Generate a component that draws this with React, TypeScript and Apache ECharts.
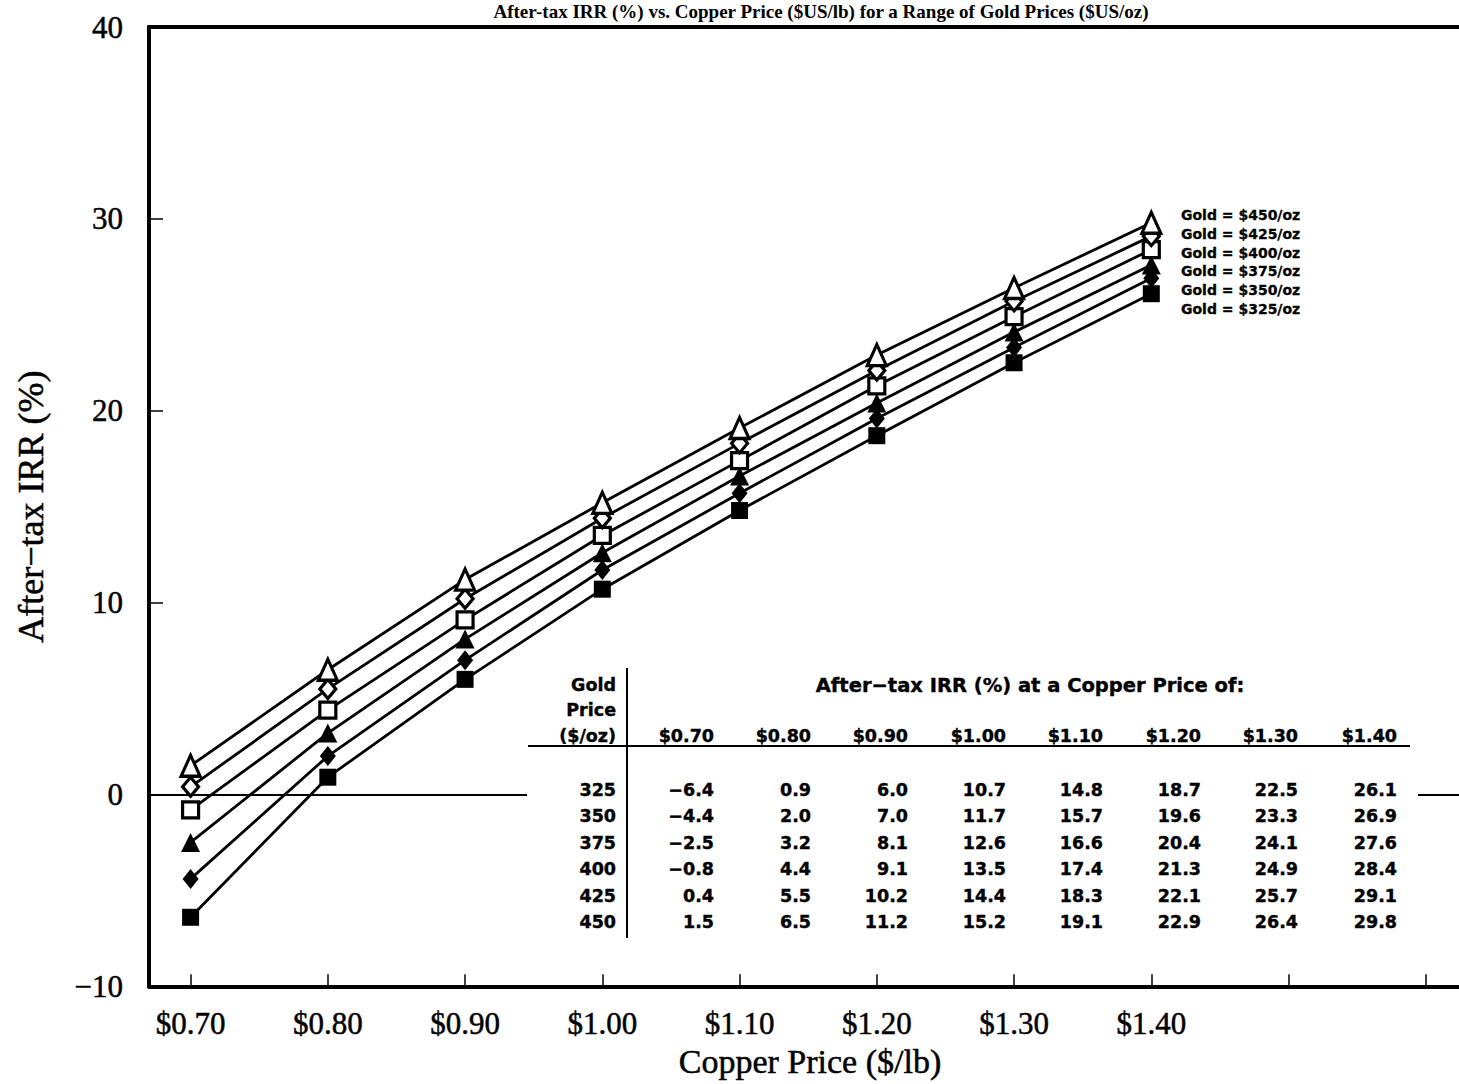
import React, { useEffect, useRef } from "react";
import * as echarts from "echarts";

const copperPrices = [0.7, 0.8, 0.9, 1.0, 1.1, 1.2, 1.3, 1.4];
const tickValues = [0.7, 0.8, 0.9, 1.0, 1.1, 1.2, 1.3, 1.4, 1.5, 1.6];
const goldPrices = [325, 350, 375, 400, 425, 450];
const irr325 = [-6.4, 0.9, 6.0, 10.7, 14.8, 18.7, 22.5, 26.1];
const irr350 = [-4.4, 2.0, 7.0, 11.7, 15.7, 19.6, 23.3, 26.9];
const irr375 = [-2.5, 3.2, 8.1, 12.6, 16.6, 20.4, 24.1, 27.6];
const irr400 = [-0.8, 4.4, 9.1, 13.5, 17.4, 21.3, 24.9, 28.4];
const irr425 = [0.4, 5.5, 10.2, 14.4, 18.3, 22.1, 25.7, 29.1];
const irr450 = [1.5, 6.5, 11.2, 15.2, 19.1, 22.9, 26.4, 29.8];
const irrByGold = [irr325, irr350, irr375, irr400, irr425, irr450];
const yTicks = [0, 10, 20, 30];

const SERIF = "'Liberation Serif', 'Times New Roman', serif";
const SANS = "'DejaVu Sans', sans-serif";

export default function App() {
  const ref = useRef<HTMLDivElement>(null);
  useEffect(() => {
    if (!ref.current) return;
    const chart = echarts.init(ref.current, null, { renderer: "svg" });

    const symbols = [
      { symbol: "rect", size: 17, fill: "#000" },
      { symbol: "diamond", size: [16, 20], fill: "#000" },
      { symbol: "triangle", size: [19, 19], fill: "#000" },
      { symbol: "rect", size: 16, fill: "#fff" },
      { symbol: "diamond", size: [16, 19], fill: "#fff" },
      { symbol: "triangle", size: [19, 21], fill: "#fff" },
    ];

    const series: any[] = goldPrices.map((g, i) => ({
      name: `Gold = $${g}/oz`,
      type: "line",
      data: copperPrices.map((c, j) => [c, irrByGold[i][j]]),
      symbol: symbols[i].symbol,
      symbolSize: symbols[i].size,
      showAllSymbol: true,
      lineStyle: { color: "#000", width: 2.8 },
      itemStyle: {
        color: symbols[i].fill,
        borderColor: "#000",
        borderWidth: symbols[i].fill === "#fff" ? 3.2 : 0,
      },
      z: 3 + i,
      ...(i === 0
        ? {
            markLine: {
              silent: true,
              symbol: "none",
              label: { show: false },
              lineStyle: { color: "#000", width: 2, type: "solid" },
              data: [{ yAxis: 0 }],
            },
          }
        : {}),
    }));

    // Table
    const colRight = [714, 811, 908, 1006, 1103, 1201, 1298, 1397];
    const rowY = [790, 816, 843, 869, 896, 922];
    const tableEls: any[] = [];
    const txt = (text: string, x: number, y: number, align = "right", size = 17.5) => ({
      type: "text",
      x,
      y,
      z: 101,
      style: {
        text,
        fill: "#000",
        font: `bold ${size}px ${SANS}`,
        align,
        verticalAlign: "middle",
        stroke: "#000",
        lineWidth: 0.4,
      },
    });
    tableEls.push({
      type: "rect",
      shape: { x: 527, y: 660, width: 891, height: 290 },
      style: { fill: "#fff" },
      z: 100,
    });
    tableEls.push(txt("Gold", 616, 685));
    tableEls.push(txt("Price", 616, 710));
    tableEls.push(txt("($/oz)", 616, 736));
    tableEls.push(txt("After\u2212tax IRR (%) at a Copper Price of:", 1030, 685, "center", 19.5));
    copperPrices.forEach((c, j) => {
      tableEls.push(txt(`$${c.toFixed(2)}`, colRight[j], 736));
    });
    goldPrices.forEach((g, i) => {
      tableEls.push(txt(String(g), 616, rowY[i]));
      irrByGold[i].forEach((v, j) => {
        const s = v < 0 ? `\u2212${Math.abs(v).toFixed(1)}` : v.toFixed(1);
        tableEls.push(txt(s, colRight[j], rowY[i]));
      });
    });
    tableEls.push({
      type: "line",
      z: 101,
      shape: { x1: 627, y1: 668, x2: 627, y2: 938 },
      style: { stroke: "#000", lineWidth: 2 },
    });
    tableEls.push({
      type: "line",
      z: 101,
      shape: { x1: 528, y1: 746, x2: 1410, y2: 746 },
      style: { stroke: "#000", lineWidth: 2 },
    });

    // Series labels
    const labelY = [309, 290, 271, 253, 234, 215];
    const labelEls = goldPrices.map((g, i) => ({
      type: "text",
      x: 1181,
      y: labelY[i],
      z: 101,
      style: {
        text: `Gold = $${g}/oz`,
        fill: "#000",
        font: `bold 14px ${SANS}`,
        align: "left",
        verticalAlign: "middle",
        stroke: "#000",
        lineWidth: 0.3,
      },
    }));

    const serifLabel = {
      fontFamily: SERIF,
      color: "#000",
      textBorderColor: "#000",
      textBorderWidth: 0.5,
    };

    chart.setOption({
      animation: false,
      backgroundColor: "#fff",
      title: {
        text: "After-tax IRR (%) vs. Copper Price ($US/lb) for a Range of Gold Prices ($US/oz)",
        left: 816,
        textAlign: "center",
        top: 0,
        padding: [2, 5, 2, 5],
        textStyle: { fontFamily: SERIF, fontSize: 19, fontWeight: "bold", color: "#000" },
      },
      grid: { left: 149, right: -11, top: 27, bottom: 95, containLabel: false },
      xAxis: [
        {
          type: "value",
          min: 0.6697,
          max: 1.6242,
          position: "bottom",
          name: "Copper Price ($/lb)",
          nameLocation: "middle",
          nameGap: 58,
          nameTextStyle: { ...serifLabel, fontSize: 34, padding: [0, 0, 0, 12] },
          axisLine: { show: true, onZero: false, lineStyle: { color: "#000", width: 4 } },
          axisTick: {
            show: true,
            inside: true,
            length: 12,
            customValues: tickValues,
            lineStyle: { color: "#000", width: 1.5 },
          },
          axisLabel: {
            show: true,
            customValues: copperPrices,
            formatter: (v: number) => `$${v.toFixed(2)}`,
            ...serifLabel,
            fontSize: 31,
            margin: 22,
          },
          splitLine: { show: false },
        },
        {
          type: "value",
          min: 0.6697,
          max: 1.6242,
          position: "top",
          axisLine: { show: true, onZero: false, lineStyle: { color: "#000", width: 4 } },
          axisTick: { show: false },
          axisLabel: { show: false },
          splitLine: { show: false },
        },
      ],
      yAxis: {
        type: "value",
        min: -10,
        max: 40,
        interval: 10,
        name: "After\u2212tax IRR (%)",
        nameLocation: "middle",
        nameGap: 100,
        nameRotate: 90,
        nameTextStyle: { ...serifLabel, fontSize: 36 },
        axisLine: { show: true, onZero: false, lineStyle: { color: "#000", width: 4 } },
        axisTick: {
          show: true,
          inside: true,
          length: 14,
          customValues: yTicks,
          lineStyle: { color: "#000", width: 1.5 },
        },
        axisLabel: {
          formatter: (v: number) => (v < 0 ? `\u2212${Math.abs(v)}` : String(v)),
          ...serifLabel,
          fontSize: 31,
          margin: 26,
        },
        splitLine: { show: false },
      },
      legend: { show: false },
      graphic: [...tableEls, ...labelEls],
      series,
    });
    return () => chart.dispose();
  }, []);
  return (
    <div
      ref={ref}
      style={{ position: "fixed", left: 0, top: 0, width: 1459, height: 1084, background: "#fff" }}
    />
  );
}
